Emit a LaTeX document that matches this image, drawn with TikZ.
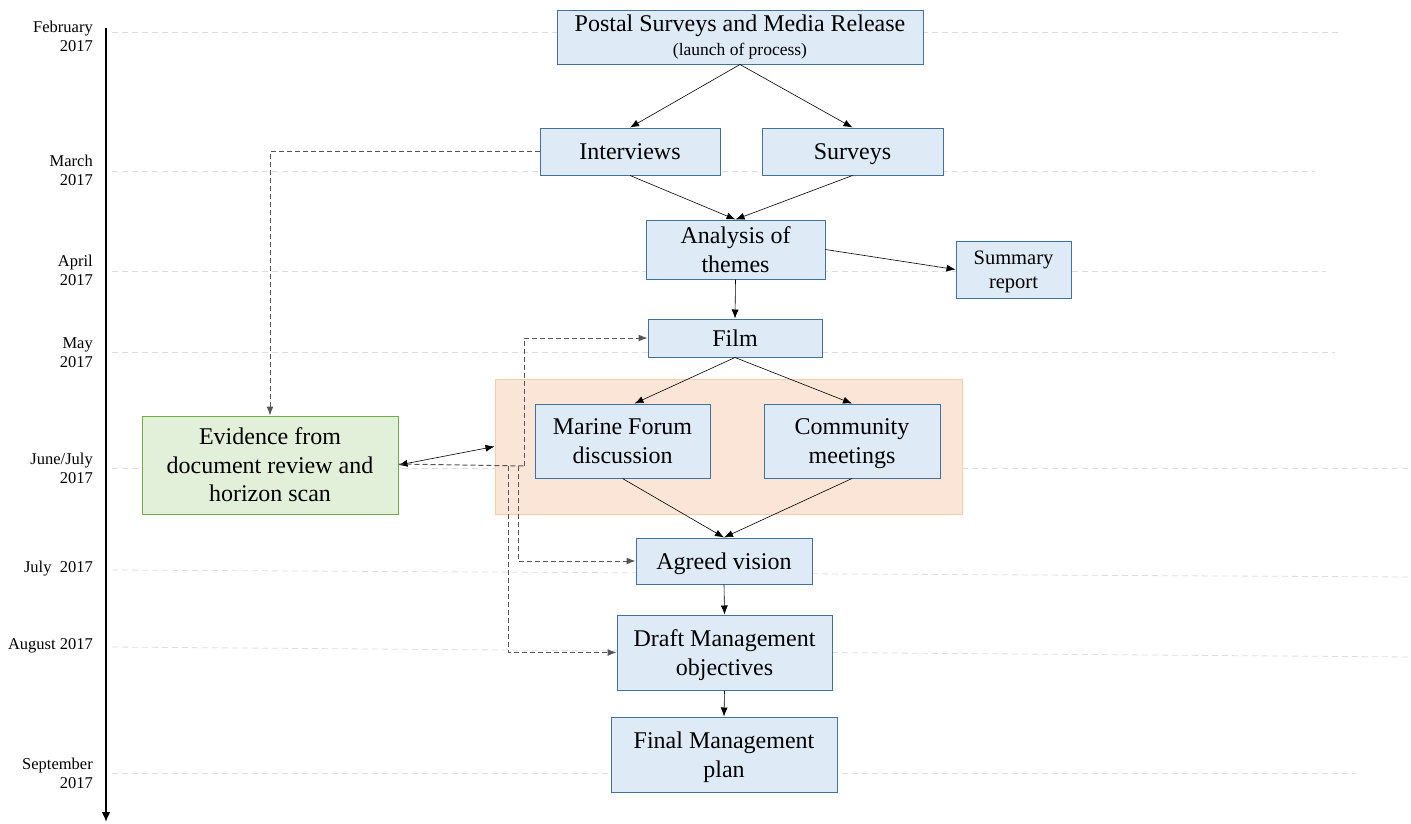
\documentclass[tikz,border=0pt]{standalone}
\usepackage{fontspec}
\setmainfont{Liberation Serif}
\usetikzlibrary{arrows.meta}
\definecolor{boxfill}{HTML}{DEEBF7}
\definecolor{boxline}{HTML}{41719C}
\definecolor{orfill}{HTML}{FBE5D6}
\definecolor{orline}{HTML}{F8CBAD}
\definecolor{grfill}{HTML}{E2F0D9}
\definecolor{grline}{HTML}{70AD47}
\definecolor{gridc}{HTML}{DDDDDD}
\definecolor{dashc}{HTML}{555555}
\newcommand{\nodepth}[1]{\raisebox{0pt}[\height][0pt]{#1}}
\tikzset{
  box/.style={draw=boxline, fill=boxfill, line width=1pt, align=center, inner sep=0pt,
    font=\fontsize{24}{28.5}\selectfont},
  greenbox/.style={box, draw=grline, fill=grfill},
  month/.style={anchor=east, align=right, inner sep=0pt, font=\fontsize{16.5}{19}\selectfont},
  gridline/.style={draw=gridc, line width=0.8pt, dash pattern=on 6pt off 4pt},
  conn/.style={draw=black, line width=0.6pt, -{Latex[length=9pt,width=7pt]}},
  dconn/.style={draw=dashc, line width=1pt, dash pattern=on 5pt off 3pt, -{Latex[length=9pt,width=7pt]}},
}
\begin{document}
\begin{tikzpicture}[x=1pt, y=-1pt]
\useasboundingbox (0,0) rectangle (1411,823);
% grid lines
\draw[gridline] (112,32) -- (1340,32);
\draw[gridline] (112,171) -- (1315,171);
\draw[gridline] (112,271) -- (1326,271);
\draw[gridline] (112,352) -- (1335,352);
\draw[gridline] (112,468) -- (1410,468);
\draw[gridline] (112,570) -- (1410,577);
\draw[gridline] (112,647) -- (1411,657);
\draw[gridline] (112,773) -- (1356,773);
% timeline
\coordinate (tstart) at (106,28);
\coordinate (tend) at (106,822);
\draw[line width=2.5pt, -{Latex[length=10pt,width=9pt]}] (tstart) -- (tend);
\node[month] (m1) at (93,36) {February\\2017};
\node[month] (m2) at (93,170) {March\\2017};
\node[month] (m3) at (93,270) {April\\2017};
\node[month] (m4) at (93,353) {May\\2017};
\node[month] (m5) at (93,468) {June/July\\2017};
\node[month] (m6) at (93,569) {July\enspace 2017};
\node[month] (m7) at (93,646) {August 2017};
\node[month] (m8) at (93,773) {September\\2017};
% orange group
\node[draw=orline, fill=orfill, line width=1pt, minimum width=467pt, minimum height=135pt, inner sep=0pt] (group) at (728.5,446.5) {};
% nodes
\node[box, minimum width=366pt, minimum height=54pt] (postal) at (740,37)
  {Postal Surveys and Media Release\\[-4pt]{\fontsize{17.5}{20}\selectfont (launch of process)}};
\node[box, minimum width=180pt, minimum height=47pt] (interviews) at (630,151.5) {\nodepth{Interviews}};
\node[box, minimum width=181pt, minimum height=47pt] (surveys) at (852.5,151.5) {\nodepth{Surveys}};
\node[box, minimum width=179pt, minimum height=59pt] (analysis) at (735.5,249.5) {Analysis of\\themes};
\node[box, minimum width=115pt, minimum height=57pt, font=\fontsize{20.5}{24}\selectfont] (summary) at (1013.5,269.5) {Summary\\\nodepth{report}};
\node[box, minimum width=174pt, minimum height=38pt] (film) at (735,338) {\nodepth{Film}};
\node[box, minimum width=175pt, minimum height=74pt] (marine) at (622.5,441) {Marine Forum\\discussion};
\node[box, minimum width=176pt, minimum height=74pt] (community) at (852,441) {Community\\\nodepth{meetings}};
\node[greenbox, minimum width=256pt, minimum height=98pt] (evidence) at (270,465) {Evidence from\\document review and\\horizon scan};
\node[box, minimum width=176pt, minimum height=46pt] (agreed) at (724,561) {\nodepth{Agreed vision}};
\node[box, minimum width=215pt, minimum height=75pt] (draft) at (724.5,652.5) {Draft Management\\\nodepth{objectives}};
\node[box, minimum width=226pt, minimum height=75pt] (final) at (724,754.5) {Final Management\\\nodepth{plan}};
% solid connectors
\draw[conn] (postal.south) -- (interviews.north);
\draw[conn] (postal.south) -- (surveys.north);
\draw[conn] (interviews.south) -- (analysis.north);
\draw[conn] (surveys.south) -- (analysis.north);
\draw[conn] (analysis.east) -- (summary.west);
\draw[conn] (analysis.south) -- (film.north);
\draw[conn] (film.south) -- ([xshift=12pt]marine.north);
\draw[conn] (film.south) -- (community.north);
\draw[conn] (marine.south) -- (agreed.north);
\draw[conn] (community.south) -- (agreed.north);
\draw[conn] (agreed.south) -- (draft.north);
\draw[conn] (draft.south) -- (final.north);
\draw[line width=0.6pt, {Latex[length=9pt,width=7pt]}-{Latex[length=9pt,width=7pt]}] (evidence.east) -- (group.west);
% dashed connectors
\draw[dconn] (interviews.west) -| (evidence.north);
\coordinate (j1) at (524,466);
\coordinate (j2) at (518,466);
\coordinate (j3) at (508,466);
\draw[dconn, -] ([yshift=1pt]evidence.east) -- (j1);
\draw[dconn] (j1) |- (film.west);
\draw[dconn] (j2) |- (agreed.west);
\draw[dconn] (j3) |- (draft.west);
\end{tikzpicture}
\end{document}
